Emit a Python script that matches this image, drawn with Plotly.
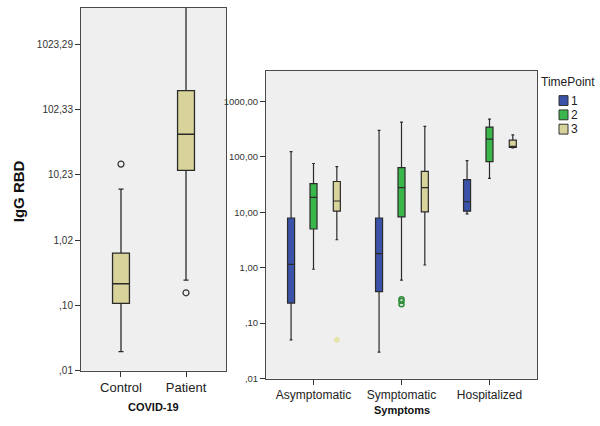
import plotly.graph_objects as go

# ---- COVID-19 status (left panel) ----
covid_groups = ["Control", "Patient"]
covid_lower = [0.020, 0.25]
covid_q1 = [0.11, 12.0]
covid_median = [0.22, 43.0]
covid_q3 = [0.65, 200.0]
covid_upper = [6.2, 5000.0]
covid_outliers = [[15.0], [0.16]]
covid_ticks = [0.010233, 0.10233, 1.0233, 10.233, 102.33, 1023.29]
covid_ticktext = [",01", ",10", "1,02", "10,23", "102,33", "1023,29"]

# ---- Symptoms by time point (right panel) ----
symptom_groups = ["Asymptomatic", "Symptomatic", "Hospitalized"]
timepoints = ["1", "2", "3"]
tp_lower = {"1": [0.05, 0.03, 9.4], "2": [0.94, 0.60, 41.0], "3": [3.2, 1.12, 145.0]}
tp_q1 = {"1": [0.23, 0.37, 10.5], "2": [5.0, 8.3, 82.0], "3": [10.5, 10.2, 148.0]}
tp_median = {"1": [1.15, 1.8, 15.5], "2": [18.6, 28.0, 209.0], "3": [16.0, 28.0, 152.0]}
tp_q3 = {"1": [7.9, 7.9, 39.0], "2": [33.0, 64.0, 345.0], "3": [36.0, 55.0, 200.0]}
tp_upper = {"1": [124.0, 300.0, 86.0], "2": [76.0, 425.0, 480.0], "3": [67.0, 355.0, 250.0]}
tp_outliers = {"1": [[], [], []], "2": [[], [0.27, 0.25, 0.22], []], "3": [[0.05], [], []]}
sym_ticks = [0.01, 0.1, 1, 10, 100, 1000]
sym_ticktext = [",01", ",10", "1,00", "10,00", "100,00", "1000,00"]

# styling
FONT = "Liberation Sans, Arial, sans-serif"
TAN = "#d8d39b"
TP_COLORS = {"1": "#3b52a9", "2": "#3bb64b", "3": "#d8d39b"}
TP_OFFSET = {"1": -0.255, "2": 0.0, "3": 0.265}
EDGE = "#2a2a2a"
PANEL_BG = "#efefef"

fig = go.Figure()

# left panel boxes
for i, g in enumerate(covid_groups):
    fig.add_trace(go.Box(
        x=[i], q1=[covid_q1[i]], median=[covid_median[i]], q3=[covid_q3[i]],
        lowerfence=[covid_lower[i]], upperfence=[covid_upper[i]],
        width=0.26, whiskerwidth=0.3, fillcolor=TAN,
        line=dict(color=EDGE, width=1.3), boxpoints=False,
        xaxis="x", yaxis="y", showlegend=False, hoverinfo="skip"))
    if covid_outliers[i]:
        fig.add_trace(go.Scatter(
            x=[i] * len(covid_outliers[i]), y=covid_outliers[i], mode="markers",
            marker=dict(symbol="circle-open", size=6, color="#333",
                        line=dict(width=1.2)),
            xaxis="x", yaxis="y", showlegend=False, hoverinfo="skip"))

# right panel boxes
for tp in timepoints:
    for j, g in enumerate(symptom_groups):
        xpos = j + TP_OFFSET[tp]
        fig.add_trace(go.Box(
            x=[xpos], q1=[tp_q1[tp][j]], median=[tp_median[tp][j]], q3=[tp_q3[tp][j]],
            lowerfence=[tp_lower[tp][j]], upperfence=[tp_upper[tp][j]],
            width=0.08, whiskerwidth=0.4, fillcolor=TP_COLORS[tp],
            line=dict(color=EDGE, width=1.2), boxpoints=False,
            xaxis="x2", yaxis="y2", showlegend=False, hoverinfo="skip"))
        pts = tp_outliers[tp][j]
        if pts:
            if tp == "3":
                mk = dict(symbol="asterisk-open", size=5, color="#e4e2a6",
                          line=dict(width=1.5, color="#e4e2a6"))
            else:
                mk = dict(symbol="circle-open", size=5, color="#2f8f3c",
                          line=dict(width=1.5, color="#2f8f3c"))
            fig.add_trace(go.Scatter(
                x=[xpos] * len(pts), y=pts, mode="markers", marker=mk,
                xaxis="x2", yaxis="y2", showlegend=False, hoverinfo="skip"))

axis_common = dict(showline=True, mirror=True, linecolor="#4a4a4a", linewidth=1,
                   showgrid=False, zeroline=False, ticks="outside", ticklen=5,
                   tickcolor="#333", tickwidth=1)

fig.update_layout(
    width=600, height=426,
    margin=dict(l=0, r=0, t=0, b=0),
    paper_bgcolor="white",
    font=dict(family=FONT, color="#222"),
    xaxis=dict(domain=[81 / 600, 226 / 600], range=[-0.615, 1.615],
               tickvals=[0, 1], ticktext=covid_groups,
               tickfont=dict(size=13, color="#222"), anchor="y", **axis_common),
    yaxis=dict(domain=[1 - 376 / 426, 1 - 8 / 426], type="log", range=[-1.99, 3.57],
               tickvals=covid_ticks, ticktext=covid_ticktext,
               tickfont=dict(size=10, color="#333"), anchor="x", **axis_common),
    xaxis2=dict(domain=[266 / 600, 537 / 600], range=[-0.54, 2.54],
                tickvals=[0, 1, 2], ticktext=symptom_groups,
                tickfont=dict(size=12, color="#222"), anchor="y2", **axis_common),
    yaxis2=dict(domain=[1 - 384 / 426, 1 - 72 / 426], type="log", range=[-2, 3.55],
                tickvals=sym_ticks, ticktext=sym_ticktext,
                tickfont=dict(size=9.5, color="#333"), anchor="x2", **axis_common),
    plot_bgcolor=PANEL_BG,
    showlegend=False,
)


def px_note(text, x, y, size, color="#222", angle=0, xanchor="center"):
    """Text placed at a pixel position of the 600x426 canvas."""
    return dict(text=text, x=x / 600, y=1 - y / 426, xref="paper", yref="paper",
                xanchor=xanchor, yanchor="middle", textangle=angle, showarrow=False,
                font=dict(size=size, color=color))


annotations = [
    px_note("<b>IgG RBD</b>", 18, 194, 15, "#111", angle=-90),
    px_note("<b>COVID-19</b>", 153, 413, 11, "#111"),
    px_note("<b>Symptoms</b>", 402, 416, 11, "#111"),
    px_note("TimePoint", 539, 83, 12, xanchor="left"),
]
shapes = []
legend_y = [102, 116.5, 131]
for tp, yc in zip(timepoints, legend_y):
    shapes.append(dict(type="rect", xref="paper", yref="paper",
                       x0=559 / 600, x1=568 / 600,
                       y0=1 - (yc + 5) / 426, y1=1 - (yc - 5) / 426,
                       fillcolor=TP_COLORS[tp], line=dict(color="#333", width=1)))
    annotations.append(px_note(tp, 568.5, yc, 12, xanchor="left"))

fig.update_layout(annotations=annotations, shapes=shapes)
fig.write_html("out.html")
